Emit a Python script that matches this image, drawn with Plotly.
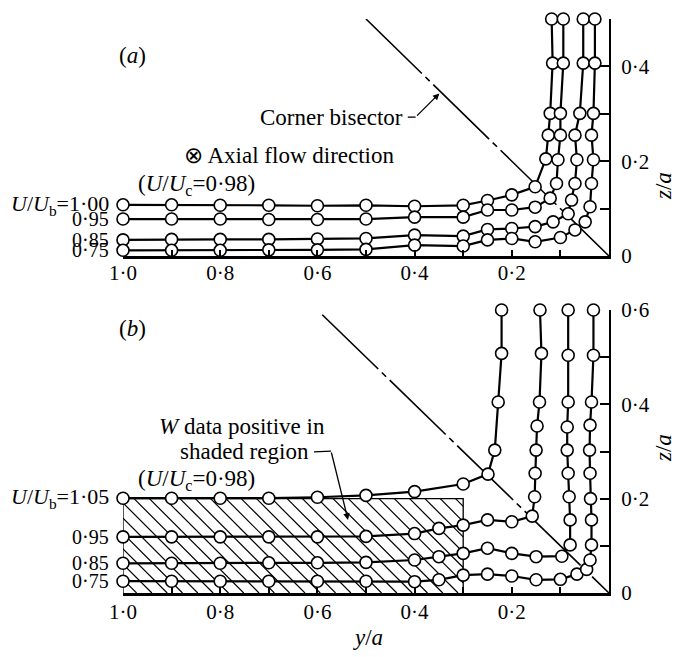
import numpy as np
import plotly.graph_objects as go

SERIF = "Liberation Serif"
FS = 21      # numbers
FT = 23      # words

# ---------------- panel (a): velocity contours, U/Ub levels ----------------
a_labels = ["<i>U</i>/<i>U</i><sub>b</sub>=1·00", "0·95", "0·85", "0·75"]

a_y_100 = [1.0, 0.9, 0.8, 0.7, 0.6, 0.5, 0.4, 0.3, 0.25, 0.2, 0.152, 0.13, 0.125, 0.121, 0.116, 0.118]
a_z_100 = [0.108, 0.108, 0.107, 0.107, 0.106, 0.107, 0.105, 0.107, 0.117, 0.129, 0.146, 0.205, 0.255, 0.301, 0.407, 0.50]

a_y_095 = [1.0, 0.9, 0.8, 0.7, 0.6, 0.5, 0.4, 0.3, 0.25, 0.2, 0.152, 0.121, 0.108, 0.105, 0.10, 0.10, 0.094, 0.094]
a_z_095 = [0.078, 0.078, 0.078, 0.077, 0.077, 0.078, 0.082, 0.082, 0.097, 0.097, 0.103, 0.122, 0.153, 0.203, 0.255, 0.301, 0.407, 0.50]

a_y_085 = [1.0, 0.9, 0.8, 0.7, 0.6, 0.5, 0.4, 0.3, 0.25, 0.2, 0.152, 0.115, 0.084, 0.077, 0.07, 0.066, 0.07, 0.06, 0.053, 0.053]
a_z_085 = [0.034, 0.035, 0.035, 0.035, 0.036, 0.037, 0.044, 0.042, 0.056, 0.058, 0.062, 0.072, 0.089, 0.118, 0.153, 0.203, 0.255, 0.301, 0.407, 0.50]

a_y_075 = [1.0, 0.9, 0.8, 0.7, 0.6, 0.5, 0.4, 0.3, 0.25, 0.2, 0.152, 0.10, 0.07, 0.049, 0.039, 0.036, 0.032, 0.036, 0.032, 0.029, 0.029]
a_z_075 = [0.012, 0.012, 0.012, 0.013, 0.013, 0.014, 0.023, 0.021, 0.034, 0.037, 0.030, 0.039, 0.055, 0.072, 0.104, 0.153, 0.203, 0.255, 0.301, 0.407, 0.50]

# ---------------- panel (b) ----------------
b_labels = ["<i>U</i>/<i>U</i><sub>b</sub>=1·05", "0·95", "0·85", "0·75"]

b_y_105 = [1.0, 0.9, 0.8, 0.7, 0.6, 0.5, 0.4, 0.3, 0.249, 0.235, 0.228, 0.221, 0.221]
b_z_105 = [0.201, 0.201, 0.201, 0.201, 0.203, 0.207, 0.215, 0.231, 0.252, 0.303, 0.405, 0.508, 0.60]

b_y_095 = [1.0, 0.9, 0.8, 0.7, 0.6, 0.5, 0.4, 0.35, 0.3, 0.25, 0.2, 0.158, 0.153, 0.152, 0.150, 0.148, 0.143, 0.139, 0.142]
b_z_095 = [0.119, 0.119, 0.119, 0.119, 0.119, 0.120, 0.126, 0.137, 0.144, 0.155, 0.151, 0.163, 0.204, 0.254, 0.303, 0.354, 0.405, 0.508, 0.60]

b_y_085 = [1.0, 0.9, 0.8, 0.7, 0.6, 0.5, 0.4, 0.35, 0.3, 0.25, 0.2, 0.15, 0.097, 0.08, 0.08, 0.082, 0.084, 0.086, 0.086, 0.084, 0.084, 0.084]
b_z_085 = [0.063, 0.063, 0.063, 0.064, 0.064, 0.065, 0.07, 0.077, 0.084, 0.095, 0.084, 0.077, 0.078, 0.102, 0.155, 0.204, 0.254, 0.303, 0.352, 0.405, 0.504, 0.60]

b_y_075 = [1.0, 0.9, 0.8, 0.7, 0.6, 0.5, 0.4, 0.35, 0.3, 0.25, 0.2, 0.15, 0.1, 0.066, 0.046, 0.039, 0.036, 0.036, 0.038, 0.039, 0.04, 0.039, 0.036, 0.032, 0.032]
b_z_075 = [0.025, 0.025, 0.025, 0.025, 0.025, 0.025, 0.024, 0.028, 0.038, 0.040, 0.036, 0.028, 0.029, 0.040, 0.050, 0.070, 0.102, 0.155, 0.20, 0.254, 0.303, 0.356, 0.405, 0.504, 0.60]

# region where W is positive (panel b)
shade_y = [1.0, 0.3]
shade_z = [0.0, 0.2]

# corner bisector end points (y/a = z/a)
bis_a = [0.5, 0.0]
bis_b = [0.59, 0.0]

# axis ticks
x_tickvals = [1.0, 0.9, 0.8, 0.7, 0.6, 0.5, 0.4, 0.3, 0.2, 0.1]
x_ticktext = ["1·0", "", "0·8", "", "0·6", "", "0·4", "", "0·2", ""]
za_tickvals = [0, 0.1, 0.2, 0.3, 0.4, 0.5]
za_ticktext = ["0", "", "0·2", "", "0·4", ""]
zb_tickvals = [0, 0.1, 0.2, 0.3, 0.4, 0.5, 0.6]
zb_ticktext = ["0", "", "0·2", "", "0·4", "", "0·6"]

fig = go.Figure()

# ---- hatched rectangle in panel (b) ----
xlo, xhi = min(shade_y), max(shade_y)
z0, z1 = shade_z
s = 1.03            # 45 degrees on screen
step = 0.0315
hx, hz = [], []
for c in np.arange(xlo + step * 0.5, xhi + (z1 - z0) / s, step):
    if c <= xhi:
        sx, sz = c, z1
    else:
        sx, sz = xhi, z1 - s * (c - xhi)
    ex = c - (z1 - z0) / s
    if ex >= xlo:
        ez = z0
    else:
        ex, ez = xlo, z1 - s * (c - xlo)
    if sz < z0:
        continue
    hx += [sx, ex, None]
    hz += [sz, ez, None]
fig.add_trace(go.Scatter(x=hx, y=hz, mode="lines", line=dict(color="black", width=1.2),
                         xaxis="x2", yaxis="y2", hoverinfo="skip"))
fig.add_trace(go.Scatter(x=[xhi, xhi, xlo, xlo], y=[z0, z1, z1, z0], mode="lines",
                         line=dict(color="black", width=1.3), xaxis="x2", yaxis="y2",
                         hoverinfo="skip"))

# ---- corner bisectors ----
dash = "78px,5px,6px,5px"
fig.add_trace(go.Scatter(x=bis_a, y=bis_a, mode="lines", line=dict(color="black", width=1.6, dash=dash),
                         xaxis="x", yaxis="y"))
fig.add_trace(go.Scatter(x=bis_b, y=bis_b, mode="lines", line=dict(color="black", width=1.6, dash=dash),
                         xaxis="x2", yaxis="y2"))

marker = dict(symbol="circle", size=12, color="white", line=dict(color="black", width=1.6))

a_series = [(a_y_100, a_z_100), (a_y_095, a_z_095), (a_y_085, a_z_085), (a_y_075, a_z_075)]
b_series = [(b_y_105, b_z_105), (b_y_095, b_z_095), (b_y_085, b_z_085), (b_y_075, b_z_075)]

for ys, zs in a_series:
    fig.add_trace(go.Scatter(x=ys, y=zs, mode="lines+markers", line=dict(color="black", width=2.2),
                             marker=marker, cliponaxis=False, xaxis="x", yaxis="y"))
for ys, zs in b_series:
    fig.add_trace(go.Scatter(x=ys, y=zs, mode="lines+markers", line=dict(color="black", width=2.2),
                             marker=marker, cliponaxis=False, xaxis="x2", yaxis="y2"))

ann = []
# contour level labels at the left end of each line
for i, ((ys, zs), lab) in enumerate(zip(a_series, a_labels)):
    ann.append(dict(x=ys[0], y=zs[0], xref="x", yref="y", text=lab, showarrow=False,
                    xanchor="right", yanchor="middle", xshift=-12,
                    font=dict(size=22 if i == 0 else 20)))
for i, ((ys, zs), lab) in enumerate(zip(b_series, b_labels)):
    ann.append(dict(x=ys[0], y=zs[0], xref="x2", yref="y2", text=lab, showarrow=False,
                    xanchor="right", yanchor="middle", xshift=-12,
                    font=dict(size=22 if i == 0 else 20)))

uc = "(<i>U</i>/<i>U</i><sub>c</sub>=0·98)"
C = dict(xanchor="center", yanchor="middle", showarrow=False)
ann += [
    dict(x=0.981, y=0.424, xref="x", yref="y", text="(<i>a</i>)", font=dict(size=FT), **C),
    dict(x=0.420, y=0.293, xref="x", yref="y", text="Corner bisector", showarrow=False,
         xanchor="right", yanchor="middle", font=dict(size=FT)),
    dict(x=0.349, y=0.343, xref="x", yref="y", ax=0.398, ay=0.293, axref="x", ayref="y",
         text="", showarrow=True, arrowhead=2, arrowsize=1, arrowwidth=1.3, arrowcolor="black"),
    dict(x=0.658, y=0.213, xref="x", yref="y", text="⊗ Axial flow direction", font=dict(size=FT), **C),
    dict(x=0.848, y=0.150, xref="x", yref="y", text=uc, font=dict(size=FT), **C),
    dict(x=0.981, y=0.561, xref="x2", yref="y2", text="(<i>b</i>)", font=dict(size=FT), **C),
    dict(x=0.755, y=0.352, xref="x2", yref="y2", text="<i>W</i> data positive in", font=dict(size=FT), **C),
    dict(x=0.749, y=0.299, xref="x2", yref="y2", text="shaded region", font=dict(size=FT), **C),
    dict(x=0.537, y=0.155, xref="x2", yref="y2", ax=0.572, ay=0.301, axref="x2", ayref="y2",
         text="", showarrow=True, arrowhead=2, arrowsize=1, arrowwidth=1.3, arrowcolor="black"),
    dict(x=0.848, y=0.239, xref="x2", yref="y2", text=uc, font=dict(size=FT), **C),
    dict(x=663 / 686, y=1 - 186 / 657, xref="paper", yref="paper", text="<i>z</i>/<i>a</i>",
         textangle=-90, font=dict(size=FT), **C),
    dict(x=663 / 686, y=1 - 448 / 657, xref="paper", yref="paper", text="<i>z</i>/<i>a</i>",
         textangle=-90, font=dict(size=FT), **C),
    dict(x=368 / 686, y=1 - 637 / 657, xref="paper", yref="paper", text="<i>y</i>/<i>a</i>",
         font=dict(size=FT), **C),
]

shapes = [
    dict(type="path", xref="x", yref="y", path="M 0.414 0.293 L 0.398 0.293",
         line=dict(color="black", width=1.3)),
    dict(type="path", xref="x2", yref="y2", path="M 0.607 0.299 L 0.572 0.301",
         line=dict(color="black", width=1.3)),
]

xcommon = dict(range=[1.0, 0.0], showgrid=False, zeroline=False, showline=True, linecolor="black",
               linewidth=2.5, ticks="inside", ticklen=6, tickwidth=1.5, tickcolor="black",
               tickvals=x_tickvals, ticktext=x_ticktext, tickfont=dict(size=FS, color="black"),
               domain=[123 / 686, 609 / 686], fixedrange=True, automargin=False)
ycommon = dict(showgrid=False, zeroline=False, showline=True, linecolor="black", linewidth=2,
               ticks="inside", ticklen=9, tickwidth=2, tickcolor="black", side="right",
               tickfont=dict(size=FS, color="black"), fixedrange=True, automargin=False,
               ticklabelstandoff=6)

fig.update_layout(
    width=686, height=657, margin=dict(l=0, r=0, t=0, b=0, autoexpand=False),
    paper_bgcolor="white", plot_bgcolor="white", showlegend=False,
    font=dict(family=SERIF, size=FS, color="black"),
    xaxis=dict(**xcommon, anchor="y", ticklabelstandoff=-4),
    yaxis=dict(**ycommon, anchor="x", range=[0, 0.5], tickvals=za_tickvals, ticktext=za_ticktext,
               domain=[1 - 256 / 657, 1 - 19 / 657]),
    xaxis2=dict(**xcommon, anchor="y2", ticklabelstandoff=-2),
    yaxis2=dict(**ycommon, anchor="x2", range=[0, 0.6], tickvals=zb_tickvals, ticktext=zb_ticktext,
                domain=[1 - 593 / 657, 1 - 310 / 657]),
    annotations=ann, shapes=shapes,
)

fig.write_html("out.html")
